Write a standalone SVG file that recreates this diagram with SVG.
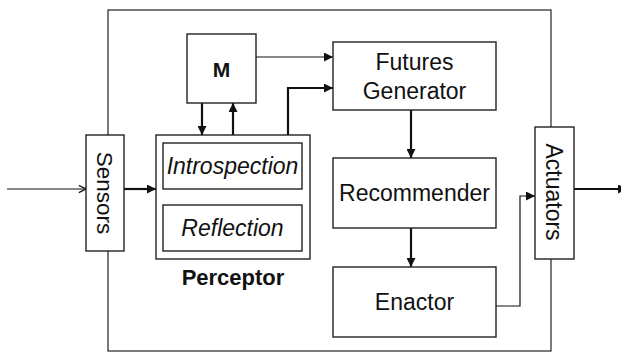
<svg xmlns="http://www.w3.org/2000/svg" width="621" height="352" viewBox="0 0 621 352">
  <style>
    .box { fill: #ffffff; stroke: #222222; stroke-width: 1.4; }
    .frame { fill: none; stroke: #222222; stroke-width: 1.2; }
    .lbl { font-family: "Liberation Sans", Arial, sans-serif; font-size: 23px; fill: #111111; text-anchor: middle; }
    .it { font-style: italic; }
    .bold { font-weight: bold; }
    .wire { fill: none; stroke: #111111; stroke-width: 1.2; }
    .thick { fill: none; stroke: #111111; stroke-width: 2.2; }
  </style>
  <defs>
    <marker id="arrow" viewBox="0 0 10 10" refX="10" refY="5" markerWidth="10" markerHeight="9" markerUnits="userSpaceOnUse" orient="auto">
      <path d="M0,0 L10,5 L0,10 z" fill="#111111"/>
    </marker>
    <marker id="open" viewBox="0 0 10 10" refX="10" refY="5" markerWidth="9" markerHeight="9" markerUnits="userSpaceOnUse" orient="auto">
      <path d="M2,1 L10,5 L2,9" fill="none" stroke="#111111" stroke-width="1.4"/>
    </marker>
  </defs>

  <rect width="621" height="352" fill="#ffffff"/>

  <!-- agent boundary -->
  <rect id="agent" class="frame" x="108" y="10" width="443" height="341"/>

  <g id="connectors">
    <!-- external input into sensors -->
    <line class="wire" x1="7" y1="189" x2="86" y2="189" marker-end="url(#open)"/>
    <!-- sensors to perceptor -->
    <line class="thick" x1="124" y1="189" x2="156" y2="189" marker-end="url(#arrow)"/>
    <!-- M down to perceptor -->
    <line class="thick" x1="202" y1="103" x2="202" y2="135" marker-end="url(#arrow)"/>
    <!-- perceptor up to M -->
    <line class="thick" x1="233" y1="135" x2="233" y2="103" marker-end="url(#arrow)"/>
    <!-- introspection to reflection -->
    <line class="thick" x1="233" y1="189" x2="233" y2="205" marker-end="url(#arrow)"/>
    <!-- M to futures generator -->
    <line class="wire" x1="256" y1="57" x2="333" y2="57" marker-end="url(#arrow)"/>
    <!-- perceptor to futures generator -->
    <polyline class="thick" points="288,135 288,88 333,88" marker-end="url(#arrow)"/>
    <!-- futures generator to recommender -->
    <line class="thick" x1="411" y1="110" x2="411" y2="158" marker-end="url(#arrow)"/>
    <!-- recommender to enactor -->
    <line class="thick" x1="411" y1="228" x2="411" y2="267" marker-end="url(#arrow)"/>
    <!-- enactor to actuators -->
    <polyline class="wire" points="496,306 520,306 520,196 535,196" marker-end="url(#arrow)"/>
    <!-- actuators output -->
    <line class="thick" x1="574" y1="189" x2="627" y2="189" marker-end="url(#arrow)"/>
  </g>

  <g id="sensors">
    <rect class="box" x="86" y="135" width="38" height="116"/>
    <text class="lbl" transform="translate(97,193) rotate(90)" style="font-size:22.5px">Sensors</text>
  </g>

  <g id="m">
    <rect class="box" x="187" y="34" width="69" height="69"/>
    <text class="lbl bold" x="221.5" y="77" style="font-size:21px">M</text>
  </g>

  <g id="perceptor">
    <rect class="box" x="156" y="135" width="154" height="124"/>
    <text class="lbl bold" x="233" y="285" style="font-size:22px">Perceptor</text>
  </g>

  <g id="introspection">
    <rect class="box" x="163" y="143" width="139" height="46"/>
    <text class="lbl it" x="232.5" y="174">Introspection</text>
  </g>

  <g id="reflection">
    <rect class="box" x="163" y="205" width="139" height="46"/>
    <text class="lbl it" x="232.5" y="236">Reflection</text>
  </g>

  <g id="futures-generator">
    <rect class="box" x="333" y="42" width="163" height="68"/>
    <text class="lbl" x="414.5" y="70">Futures</text>
    <text class="lbl" x="414.5" y="99">Generator</text>
  </g>

  <g id="recommender">
    <rect class="box" x="333" y="158" width="163" height="70"/>
    <text class="lbl" x="414.5" y="201">Recommender</text>
  </g>

  <g id="enactor">
    <rect class="box" x="333" y="267" width="163" height="70"/>
    <text class="lbl" x="414.5" y="310">Enactor</text>
  </g>

  <g id="actuators">
    <rect class="box" x="535" y="127" width="39" height="132"/>
    <text class="lbl" transform="translate(546,192) rotate(90)">Actuators</text>
  </g>
</svg>
